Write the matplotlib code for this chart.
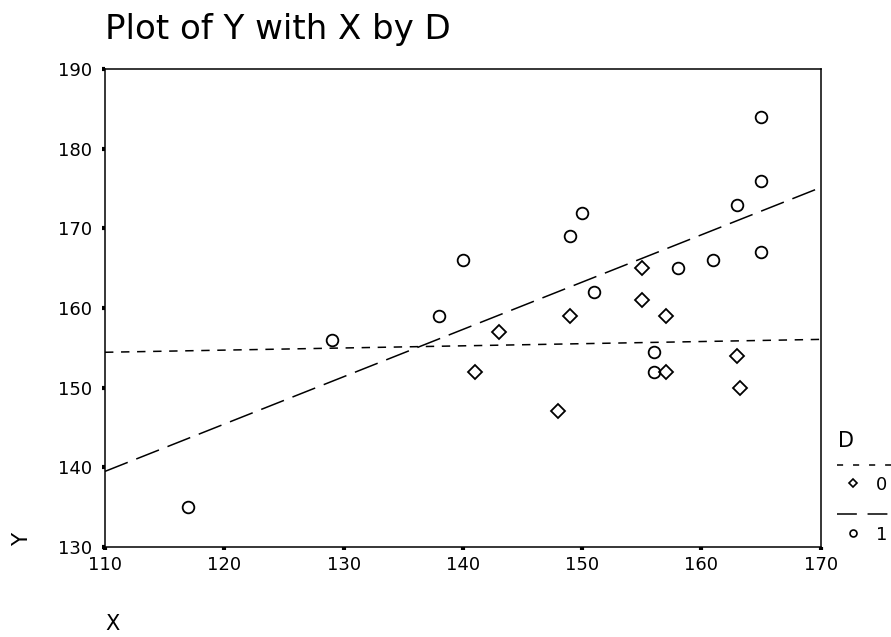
import numpy as np
import matplotlib
matplotlib.use("Agg")
import matplotlib.pyplot as plt
from matplotlib.lines import Line2D

plt.rcParams['font.family'] = ['DejaVu Sans']

# Data (D = 0: diamonds, D = 1: circles)
x_d0 = [143, 141, 148, 149, 155, 155, 157, 157, 163, 163.2]
y_d0 = [157, 152, 147, 159, 165, 161, 159, 152, 154, 150]
x_d1 = [117, 129, 138, 140, 149, 150, 151, 156, 156, 158, 161, 163, 165, 165, 165]
y_d1 = [135, 156, 159, 166, 169, 172, 162, 154.5, 152, 165, 166, 173, 184, 176, 167]
x_ticks = [110, 120, 130, 140, 150, 160, 170]
y_ticks = [130, 140, 150, 160, 170, 180, 190]
title = "Plot of Y with X by D"
legend_title = "D"
legend_labels = ["0", "1"]

W, H = 891, 637
fig = plt.figure(figsize=(W / 100, H / 100), dpi=100)

def fx(px):
    return px / W

def fy(py):
    return 1 - py / H

ax_l, ax_r, ax_t, ax_b = 105, 820.7, 69.3, 546.7
ax = fig.add_axes([fx(ax_l), fy(ax_b), fx(ax_r - ax_l), (ax_b - ax_t) / H])

ax.set_xlim(110, 170)
ax.set_ylim(130, 190)

lw = 1.1
short_dash = (0, (5.5, 5.0))
long_dash = (0, (16.0, 6.0))

# Regression lines
xs = np.array([110.0, 170.0])
b0 = np.polyfit(x_d0, y_d0, 1)
b1 = np.polyfit(x_d1, y_d1, 1)
ax.plot(xs, np.polyval(b0, xs), color='black', lw=lw, linestyle=short_dash)
ax.plot(xs, np.polyval(b1, xs), color='black', lw=lw, linestyle=long_dash)

# Points
ax.plot(x_d0, y_d0, linestyle='none', marker='D', markersize=6.8,
        markerfacecolor='none', markeredgecolor='black', markeredgewidth=1.3,
        clip_on=False)
ax.plot(x_d1, y_d1, linestyle='none', marker='o', markersize=8.4,
        markerfacecolor='none', markeredgecolor='black', markeredgewidth=1.3,
        clip_on=False)

for s in ax.spines.values():
    s.set_linewidth(1.1)

ax.set_xticks(x_ticks)
ax.set_yticks(y_ticks)
ax.set_xticklabels([str(v) for v in x_ticks])
ax.set_yticklabels([str(v) for v in y_ticks])
ax.tick_params(axis='x', direction='out', length=2.5, width=3.0, pad=4.0,
               labelsize=13)
ax.tick_params(axis='y', direction='out', length=2.5, width=3.0, pad=7.0,
               labelsize=13)

# Title and axis labels
fig.text(fx(105), fy(39), title, fontsize=24.5, ha='left', va='baseline')
fig.text(fx(22), fy(539), "Y", fontsize=15.5, rotation=90, ha='center', va='center')
fig.text(fx(113), fy(630), "X", fontsize=15, ha='center', va='baseline')

# Legend (manual, at the right)
fig.text(fx(838), fy(447), legend_title, fontsize=15, ha='left', va='baseline')
fig.add_artist(Line2D([fx(837), fx(891)], [fy(465), fy(465)], color='black',
                      lw=lw, linestyle=(0, (4.0, 6.5)), transform=fig.transFigure))
fig.add_artist(Line2D([fx(852.7)], [fy(482.7)], marker='D', markersize=4.0,
                      markerfacecolor='none', markeredgecolor='black',
                      markeredgewidth=1.2, transform=fig.transFigure))
fig.text(fx(876), fy(489.5), legend_labels[0], fontsize=13, ha='left', va='baseline')
fig.add_artist(Line2D([fx(837), fx(891)], [fy(514.3), fy(514.3)], color='black',
                      lw=lw, linestyle=(0, (13.0, 7.0)), transform=fig.transFigure))
fig.add_artist(Line2D([fx(852.7)], [fy(533.3)], marker='o', markersize=5.0,
                      markerfacecolor='none', markeredgecolor='black',
                      markeredgewidth=1.2, transform=fig.transFigure))
fig.text(fx(876), fy(540), legend_labels[1], fontsize=13, ha='left', va='baseline')

fig.savefig("out.png", dpi=100)
